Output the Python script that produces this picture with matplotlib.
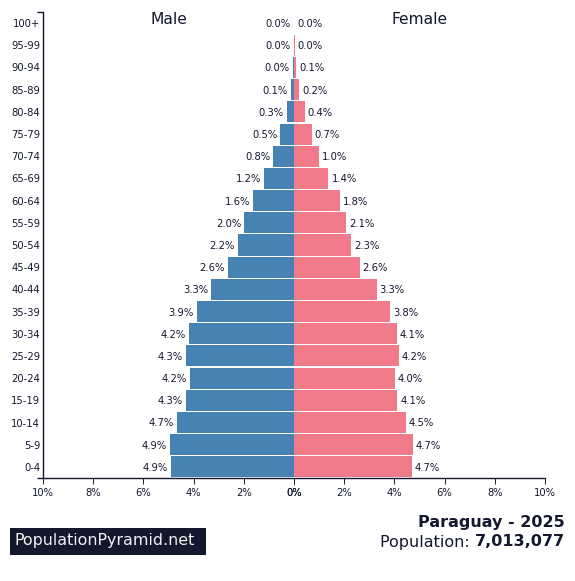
import matplotlib
matplotlib.use("Agg")
import matplotlib.pyplot as plt
from matplotlib.patches import Rectangle

age_groups = ["0-4","5-9","10-14","15-19","20-24","25-29","30-34","35-39","40-44","45-49",
              "50-54","55-59","60-64","65-69","70-74","75-79","80-84","85-89","90-94","95-99","100+"]
male = [4.90,4.94,4.66,4.30,4.16,4.30,4.20,3.88,3.31,2.63,2.23,1.99,1.63,1.20,0.82,0.54,0.28,0.12,0.04,0.01,0.00]
female = [4.69,4.73,4.46,4.11,4.02,4.18,4.10,3.82,3.29,2.61,2.27,2.08,1.83,1.37,1.00,0.70,0.43,0.20,0.09,0.02,0.00]
x_ticks = [-10,-8,-6,-4,-2,0,0,2,4,6,8,10]
x_tick_labels = ["10%","8%","6%","4%","2%","0%","0%","2%","4%","6%","8%","10%"]
country_year = "Paraguay - 2025"
population = "7,013,077"
site = "PopulationPyramid.net"

W, H = 575, 581
INK = "#14182f"
px = 0.72  # one pixel in points at dpi 100
plt.rcParams["font.family"] = "DejaVu Sans"

fig = plt.figure(figsize=(W/100, H/100), dpi=100)
ax = fig.add_axes([43/W, 1-478/H, 502/W, 466/H])
ypos = list(range(len(age_groups)))
ax.barh(ypos, [-v for v in male], height=0.95, color="#4682B4", linewidth=0)
ax.barh(ypos, female, height=0.95, color="#F07A8A", linewidth=0)
ax.set_xlim(-10, 10)
ax.set_ylim(-0.5, 20.5)

for s in ("top", "right"):
    ax.spines[s].set_visible(False)
for s in ("left", "bottom"):
    ax.spines[s].set_color(INK)
    ax.spines[s].set_linewidth(1.0)

ax.set_xticks(x_ticks)
ax.set_xticklabels(x_tick_labels)
ax.set_yticks(ypos)
ax.set_yticklabels(age_groups)
ax.tick_params(axis="x", length=6*px, width=0.7, color=INK, pad=3, labelsize=10*px, labelcolor=INK)
ax.tick_params(axis="y", length=0, pad=2, labelsize=10*px, labelcolor=INK)
ax.set_yticks([-0.5, 20.5], minor=True)
ax.tick_params(axis="y", which="minor", length=6*px, width=1.0, color=INK)

for y, m, f in zip(ypos, male, female):
    ax.annotate(f"{m:.1f}%", (-m, y), xytext=(-3*px, -0.7), textcoords="offset points",
                ha="right", va="center", fontsize=10*px, color=INK)
    ax.annotate(f"{f:.1f}%", (f, y), xytext=(3*px, -0.7), textcoords="offset points",
                ha="left", va="center", fontsize=10*px, color=INK)

ax.text(-5, 20.18, "Male", ha="center", va="center", fontsize=15.5*px, color=INK)
ax.text(5, 20.18, "Female", ha="center", va="center", fontsize=15.5*px, color=INK)

fig.add_artist(Rectangle((10/W, 1-555/H), 196/W, 27/H, transform=fig.transFigure, color="#14182f", lw=0))
fig.text(14/W, 1-541/H, site, ha="left", va="center", fontsize=15.85*px, color="#f2f2f2")

fig.text(565/W, 1-523/H, country_year, ha="right", va="center", fontsize=16*px, fontweight="bold", color=INK)
t = fig.text(565/W, 1-542/H, population, ha="right", va="center", fontsize=16*px, fontweight="bold", color=INK)
fig.canvas.draw()
x0 = t.get_window_extent().x0
fig.text(x0/W, 1-542/H, "Population: ", ha="right", va="center", fontsize=16*px, color=INK)

fig.savefig("out.png", dpi=100)
